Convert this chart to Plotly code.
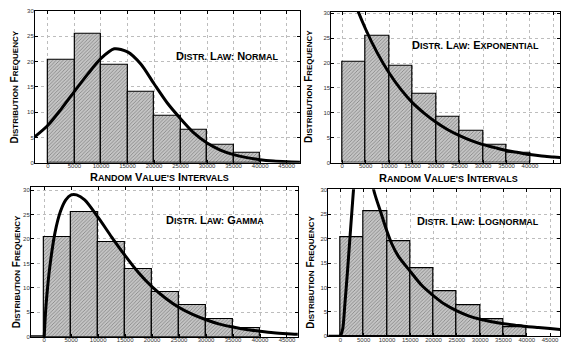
import plotly.graph_objects as go

# ---------------- data ----------------
bin_starts = [0, 5000, 10000, 15000, 20000, 25000, 30000, 35000]
frequency = [20.3, 25.5, 19.4, 13.9, 9.2, 6.4, 3.6, 1.85]
bin_width = 5000

x_ticks = [0, 5000, 10000, 15000, 20000, 25000, 30000, 35000, 40000, 45000]
y_ticks = [0, 5, 10, 15, 20, 25, 30]

normal_x = [-2500, 0, 2500, 5000, 7500, 10000, 12500, 15000, 17500, 20000, 22500,
            25000, 27500, 30000, 32500, 35000, 37500, 40000, 42500, 45000, 47500]
normal_y = [5.1, 7.4, 10.6, 14.1, 17.5, 20.6, 22.5, 21.9, 19.5, 15.6, 11.8,
            8.7, 5.9, 3.9, 2.5, 1.6, 1.0, 0.6, 0.35, 0.2, 0.1]

expon_x = [2000, 2500, 5000, 7500, 10000, 12500, 15000, 17500, 20000, 22500, 25000,
           27500, 30000, 32500, 35000, 37500, 40000, 42500, 45000, 47500]
expon_y = [34.5, 32.7, 26.8, 22.0, 18.0, 14.7, 12.0, 9.9, 8.1, 6.6, 5.4,
           4.4, 3.6, 3.0, 2.4, 2.0, 1.6, 1.3, 1.1, 0.9]

gamma_x = [0, 250, 500, 1000, 2000, 3000, 4000, 5000, 6000, 7500, 10000, 12500, 15000,
           17500, 20000, 22500, 25000, 27500, 30000, 32500, 35000, 37500, 40000,
           42500, 45000, 47500]
gamma_y = [0, 5.1, 8.6, 14.0, 21.3, 25.6, 28.0, 29.0, 29.0, 28.0, 24.4, 20.4, 16.6,
           13.1, 10.2, 7.9, 6.0, 4.6, 3.5, 2.6, 2.0, 1.5, 1.15,
           0.85, 0.65, 0.5]

lognorm_x = [0, 500, 1000, 1500, 2000, 2500, 3000, 4000, 5500, 6500, 7140, 8700, 10000,
             11000, 12500, 15000, 17500, 20000, 22500, 25000, 27500, 30000, 32500,
             35000, 37500, 40000, 42500, 45000, 47500]
lognorm_y = [0, 1.5, 7.0, 13.0, 19.5, 26.0, 32.0, 40.0, 40.0, 34.5, 30.0, 25.3, 21.5,
             19.0, 16.3, 13.3, 10.4, 8.3, 6.5, 5.2, 4.2, 3.5, 3.0,
             2.6, 2.3, 2.0, 1.8, 1.6, 1.4]

below_zero_x = [-3000, 0]
below_zero_y = [0, 0]

law_names = ["Normal", "Exponential", "Gamma", "Lognormal"]
x_title = "Random Value's Intervals"
y_title = "Distribution frequency"

# ---------------- layout helpers ----------------
W, H = 561, 349
FONT = "Liberation Sans, Arial, sans-serif"


def fx(p):
    return p / W


def fy(p):
    return 1 - p / H


def small_caps(text, big, small):
    out = []
    for word in text.split(" "):
        w = word.upper()
        out.append(w[0] + (f"<span style='font-size:{small}px'>{w[1:]}</span>" if len(w) > 1 else ""))
    return f"<b><span style='font-size:{big}px'>" + " ".join(out) + "</span></b>"


panels = [
    dict(name=law_names[0], xd=(35, 301), yd=(8, 162.5), xr=(-2450, 47600), yr=(0, 30.0),
         cx=normal_x, cy=normal_y, flat=False, law=(228, 54), ytl=(15, 85), xtl=(160, 177)),
    dict(name=law_names[1], xd=(332, 561), yd=(9, 162.3), xr=(-2300, 46400), yr=(0, 30.3),
         cx=expon_x, cy=expon_y, flat=False, law=(476, 43), ytl=(309, 85), xtl=(449, 178)),
    dict(name=law_names[2], xd=(31, 298.3), yd=(187.3, 339.7), xr=(-2460, 47000), yr=(0, 30.6),
         cx=gamma_x, cy=gamma_y, flat=True, law=(215, 221), ytl=(16, 273), xtl=None),
    dict(name=law_names[3], xd=(329, 561), yd=(189.5, 339.2), xr=(-2570, 47140), yr=(0, 30.1),
         cx=lognorm_x, cy=lognorm_y, flat=True, law=(479, 222), ytl=(311, 274), xtl=None),
]

fig = go.Figure()
annotations = []
layout_axes = {}

for i, p in enumerate(panels, start=1):
    xa = "x" if i == 1 else f"x{i}"
    ya = "y" if i == 1 else f"y{i}"
    fig.add_trace(go.Bar(
        x=bin_starts, y=frequency, width=bin_width, offset=0,
        xaxis=xa, yaxis=ya,
        marker=dict(color="#c2c2c2",
                    line=dict(color="black", width=1.2),
                    pattern=dict(shape="/", fgcolor="#4a4a4a", bgcolor="#c4c4c4",
                                 size=2.5, solidity=0.35)),
        showlegend=False, hoverinfo="skip"))
    if p["flat"]:
        fig.add_trace(go.Scatter(x=below_zero_x, y=below_zero_y, mode="lines",
                                 xaxis=xa, yaxis=ya, line=dict(color="black", width=3),
                                 showlegend=False, hoverinfo="skip"))
    fig.add_trace(go.Scatter(x=p["cx"], y=p["cy"], mode="lines", xaxis=xa, yaxis=ya,
                             line=dict(color="black", width=3, shape="spline", smoothing=0.8),
                             showlegend=False, hoverinfo="skip"))
    axis_common = dict(showline=True, linecolor="black", linewidth=1, mirror="ticks",
                       ticks="inside", ticklen=3, tickcolor="black",
                       showgrid=True, gridcolor="#bdbdbd", griddash="dot", gridwidth=1,
                       zeroline=False, tickfont=dict(family=FONT, size=6, color="#333"))
    layout_axes["xaxis" if i == 1 else f"xaxis{i}"] = dict(
        axis_common, domain=[fx(p["xd"][0]), fx(p["xd"][1])], range=list(p["xr"]),
        tickmode="array", tickvals=x_ticks, ticktext=[str(v) for v in x_ticks],
        ticklabelstandoff=-3, anchor=ya)
    layout_axes["yaxis" if i == 1 else f"yaxis{i}"] = dict(
        axis_common, domain=[fy(p["yd"][1]), fy(p["yd"][0])], range=list(p["yr"]),
        tickmode="array", tickvals=y_ticks, ticklabelstandoff=-1, anchor=xa)
    annotations.append(dict(
        text=small_caps("Distr. Law: " + p["name"], 11, 9),
        x=fx(p["law"][0]), y=fy(p["law"][1]), xref="paper", yref="paper",
        xanchor="center", yanchor="middle", showarrow=False,
        font=dict(family=FONT, color="black")))
    annotations.append(dict(
        text=small_caps(y_title, 10, 8),
        x=fx(p["ytl"][0]), y=fy(p["ytl"][1]), xref="paper", yref="paper",
        xanchor="center", yanchor="middle", showarrow=False, textangle=-90,
        font=dict(family=FONT, color="black")))
    if p["xtl"]:
        annotations.append(dict(
            text=small_caps(x_title, 11, 9),
            x=fx(p["xtl"][0]), y=fy(p["xtl"][1]), xref="paper", yref="paper",
            xanchor="center", yanchor="middle", showarrow=False,
            font=dict(family=FONT, color="black")))

fig.update_layout(
    width=W, height=H, margin=dict(l=0, r=0, t=0, b=0),
    paper_bgcolor="white", plot_bgcolor="white",
    annotations=annotations, bargap=0, **layout_axes)

fig.write_html(
    "out.html",
    config={"displayModeBar": False},
    post_script="document.body.style.margin='0';document.body.style.padding='0';"
                "document.body.style.overflow='hidden';")
